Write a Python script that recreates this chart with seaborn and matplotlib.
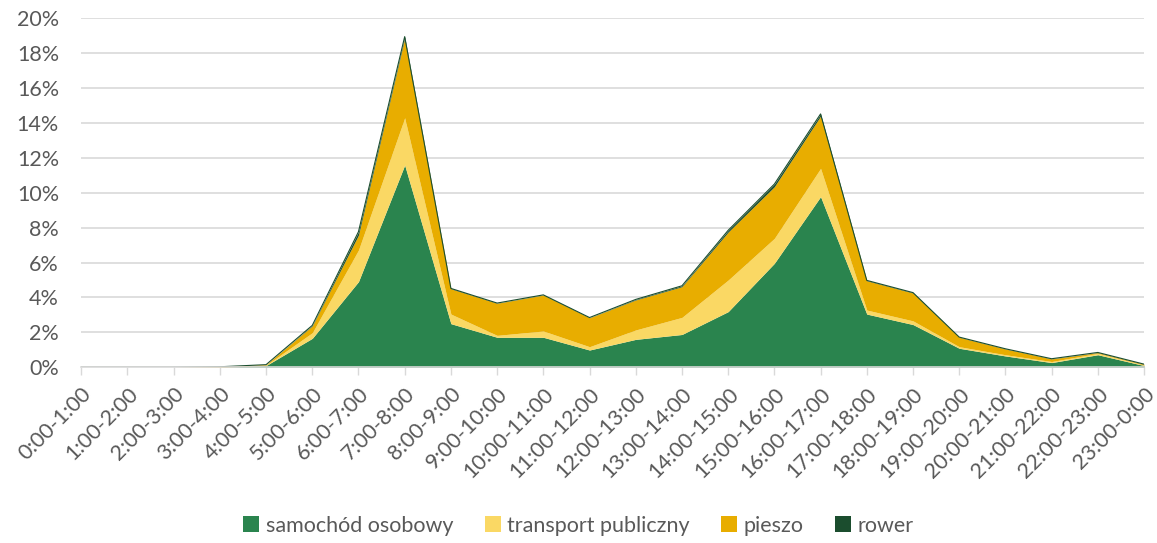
import matplotlib
matplotlib.use("Agg")
import matplotlib.pyplot as plt
from matplotlib.patches import Patch
from matplotlib.ticker import FuncFormatter, MultipleLocator
import seaborn as sns
import pandas as pd

hours = ["0:00-1:00", "1:00-2:00", "2:00-3:00", "3:00-4:00", "4:00-5:00",
         "5:00-6:00", "6:00-7:00", "7:00-8:00", "8:00-9:00", "9:00-10:00",
         "10:00-11:00", "11:00-12:00", "12:00-13:00", "13:00-14:00",
         "14:00-15:00", "15:00-16:00", "16:00-17:00", "17:00-18:00",
         "18:00-19:00", "19:00-20:00", "20:00-21:00", "21:00-22:00",
         "22:00-23:00", "23:00-0:00"]

# share of trips started in each hour, percent
samochod = [0, 0, 0, 0, 0.10, 1.66, 4.91, 11.59, 2.50, 1.72, 1.72, 0.99,
            1.60, 1.88, 3.19, 5.96, 9.78, 3.05, 2.45, 1.09, 0.65, 0.27,
            0.72, 0.10]
transport = [0, 0, 0, 0, 0.02, 0.32, 1.81, 2.71, 0.55, 0.11, 0.36, 0.19,
             0.54, 0.98, 1.81, 1.43, 1.62, 0.23, 0.21, 0.09, 0.07, 0.06,
             0.08, 0.03]
pieszo = [0, 0, 0, 0.03, 0.03, 0.39, 0.86, 4.55, 1.45, 1.84, 2.06, 1.66,
          1.72, 1.76, 2.75, 2.96, 3.00, 1.68, 1.60, 0.54, 0.33, 0.15,
          0.04, 0.04]
rower = [0, 0, 0, 0, 0, 0.03, 0.19, 0.10, 0.02, 0.01, 0.01, 0.01,
         0.03, 0.05, 0.10, 0.15, 0.12, 0.02, 0.02, 0.01, 0.01, 0.01,
         0.01, 0.01]

series_names = ["samochód osobowy", "transport publiczny", "pieszo", "rower"]
colors = ["#2A844E", "#FAD864", "#E8AD00", "#1B4D2E"]

df = pd.DataFrame({"godzina": hours, "samochód osobowy": samochod,
                   "transport publiczny": transport, "pieszo": pieszo,
                   "rower": rower})

sns.set_theme(style="white")
plt.rcParams["font.family"] = ["Lato", "DejaVu Sans"]

fig = plt.figure(figsize=(11.57, 5.43), dpi=100)
ax = fig.add_axes([0.0702, 0.3236, 0.9186, 0.6427])

x = list(range(len(hours)))
ax.stackplot(x, [df[s] for s in series_names], colors=colors,
             linewidth=0)

# thin outline along the top of the stack
top = df[series_names].sum(axis=1)
sns.lineplot(x=x, y=top, ax=ax, color="#1B4D2E", linewidth=0.8,
             legend=False)

ax.set_xlim(0, len(hours) - 1)
ax.set_ylim(0, 20)
ax.yaxis.set_major_locator(MultipleLocator(2))
ax.yaxis.set_major_formatter(FuncFormatter(lambda v, _: f"{v:.0f}%"))
ax.grid(axis="y", color="#D9D9D9", linewidth=1.2)
ax.set_axisbelow(True)

ax.set_xticks(x)
ax.set_xticklabels(hours, rotation=45, ha="right", rotation_mode="anchor")
ax.tick_params(axis="x", colors="#595959", labelsize=15.5, length=6,
               width=1, direction="out", pad=6, bottom=True,
               color="#D9D9D9")
ax.tick_params(axis="y", colors="#595959", labelsize=15.5, length=0,
               pad=16)
for lab in ax.get_xticklabels() + ax.get_yticklabels():
    lab.set_color("#595959")

for side in ["left", "right", "top"]:
    ax.spines[side].set_visible(False)
ax.spines["bottom"].set_color("#D9D9D9")
ax.spines["bottom"].set_linewidth(1.2)
ax.set_xlabel("")
ax.set_ylabel("")

handles = [Patch(facecolor=c, edgecolor="none") for c in colors]
fig.legend(handles, series_names, loc="lower center", ncol=4,
           frameon=False, bbox_to_anchor=(0.5, -0.022), fontsize=15.5,
           handlelength=0.75, handleheight=0.75, handletextpad=0.3,
           columnspacing=1.45, labelcolor="#595959")

fig.savefig("out.png", dpi=100)
